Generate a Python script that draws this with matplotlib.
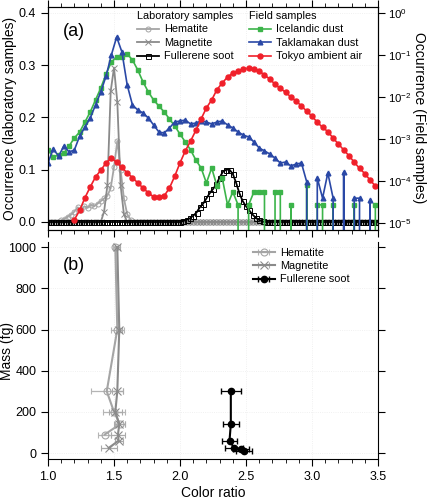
import numpy as np
import matplotlib
matplotlib.use("Agg")
import matplotlib.pyplot as plt
from matplotlib.ticker import MultipleLocator, LogLocator, NullLocator, FormatStrFormatter

plt.rcParams['font.family'] = ['Liberation Sans', 'DejaVu Sans']
plt.rcParams['mathtext.fontset'] = 'custom'
plt.rcParams['mathtext.rm'] = 'Liberation Sans'
plt.rcParams['axes.unicode_minus'] = False

# ---- panel (a): laboratory samples (linear axis), bins of 0.025
lab_x = np.linspace(1.0, 3.5, 101)
hematite = [0.0] * 4 + [0.003, 0.006, 0.010, 0.014, 0.020, 0.028, 0.022, 0.030, 0.027, 0.033,
                        0.030, 0.035, 0.040, 0.045, 0.050, 0.065, 0.105, 0.155, 0.100, 0.045,
                        0.015, 0.004] + [0.0] * 75
magnetite = [0.0] * 17 + [0.02, 0.07, 0.25, 0.295, 0.23, 0.07, 0.015] + [0.0] * 77
fullerene = [0.0] * 41 + [0.002, 0.004, 0.007, 0.012, 0.018, 0.028, 0.035, 0.045, 0.055, 0.063,
                          0.072, 0.085, 0.096, 0.100, 0.100, 0.092, 0.075, 0.055, 0.040, 0.030,
                          0.022, 0.014, 0.008, 0.004, 0.001] + [0.0] * 35

# ---- panel (a): field samples (log axis), bins of 0.04
field_x = np.round(1.0 + 0.04 * np.arange(63), 2)
icelandic = [5.5e-4, 3.7e-4, 4.2e-4, 4.6e-4, 6.8e-4, 1.06e-3, 1.47e-3, 2.54e-3, 4.4e-3, 8.5e-3,
             1.64e-2, 3.53e-2, 6.8e-2, 8.96e-2, 8.96e-2, 0.106, 7.6e-2, 4.4e-2, 2.28e-2, 1.32e-2,
             8.5e-3, 6.1e-3, 4.4e-3, 3.0e-3, 2.04e-3, 1.31e-3, 8.5e-4, 5.5e-4, 3.16e-4, 2.04e-4,
             9.0e-5, 2.04e-4, 7.6e-5, 1.18e-4, 2.7e-5, 5.5e-5, 2.7e-5, 0, 2.7e-5, 5.5e-5,
             5.5e-5, 5.5e-5, 0, 5.5e-5, 5.5e-5, 0, 2.7e-5, 0, 0, 8.0e-5,
             0, 2.7e-5, 2.7e-5, 0, 2.7e-5, 0, 0, 0, 2.7e-5, 0,
             0, 0, 2.7e-5]
taklamakan = [2.7e-4, 5.8e-4, 3.9e-4, 6.8e-4, 4.9e-4, 5.5e-4, 1.18e-3, 1.93e-3, 3.16e-3, 6.45e-3,
              1.32e-2, 3.16e-2, 0.100, 0.268, 0.118, 1.93e-2, 6.45e-3, 4.9e-3, 4.16e-3, 3.16e-3,
              2.16e-3, 1.47e-3, 1.39e-3, 1.83e-3, 2.54e-3, 2.68e-3, 2.83e-3, 2.28e-3, 2.40e-3, 2.68e-3,
              2.54e-3, 2.28e-3, 2.54e-3, 2.68e-3, 2.16e-3, 1.83e-3, 1.47e-3, 1.24e-3, 1.12e-3, 8.5e-4,
              6.1e-4, 5.2e-4, 4.4e-4, 3.5e-4, 2.68e-4, 2.83e-4, 2.28e-4, 2.54e-4, 2.68e-4, 9.5e-5,
              0, 1.18e-4, 3.9e-5, 1.55e-4, 3.9e-5, 0, 1.64e-4, 0, 3.9e-5, 3.9e-5,
              0, 3.5e-5, 0]
tokyo_x = field_x[5:]
tokyo = [1.2e-5, 2.0e-5, 4.0e-5, 7.2e-5, 1.25e-4, 1.8e-4, 2.7e-4, 3.5e-4, 2.8e-4, 2.1e-4,
         1.55e-4, 1.2e-4, 9.0e-5, 6.8e-5, 5.2e-5, 4.2e-5, 4.2e-5, 4.4e-5, 6.8e-5, 1.3e-4,
         2.7e-4, 5.2e-4, 8.9e-4, 1.6e-3, 3.0e-3, 5.5e-3, 8.5e-3, 1.5e-2, 2.15e-2, 3.0e-2,
         3.7e-2, 4.2e-2, 4.6e-2, 4.9e-2, 4.6e-2, 4.2e-2, 3.3e-2, 2.7e-2, 2.0e-2, 1.6e-2,
         1.3e-2, 1.0e-2, 8.0e-3, 6.1e-3, 4.6e-3, 3.5e-3, 2.5e-3, 1.9e-3, 1.5e-3, 1.05e-3,
         7.6e-4, 5.5e-4, 4.0e-4, 2.8e-4, 2.0e-4, 1.5e-4, 1.05e-4, 7.6e-5]

# ---- panel (b): mass vs colour ratio
hem_mass = [1000, 600, 300, 200, 140, 90]
hem_cr = [1.51, 1.525, 1.445, 1.50, 1.545, 1.43]
hem_err = [0.02, 0.05, 0.12, 0.08, 0.04, 0.05]
mag_mass = [1000, 600, 300, 200, 140, 90, 60, 25]
mag_cr = [1.525, 1.54, 1.525, 1.51, 1.54, 1.53, 1.535, 1.46]
mag_err = [0.02, 0.02, 0.04, 0.05, 0.04, 0.05, 0.03, 0.06]
ful_mass = [300, 140, 60, 25, 18, 12]
ful_cr = [2.385, 2.385, 2.375, 2.41, 2.46, 2.485]
ful_err = [0.075, 0.06, 0.06, 0.07, 0.06, 0.06]

c_hem = '#a5a5a5'
c_mag = '#8a8a8a'
c_green = '#3cb44a'
c_blue = '#2a48a6'
c_red = '#f0202a'

fig = plt.figure(figsize=(4.28, 5.0), dpi=100)
L, W = 48 / 428, 330 / 428
ax = fig.add_axes([L, 1 - 230 / 500, W, 223 / 500])
axb = fig.add_axes([L, 1 - 459 / 500, W, 217 / 500])

# lab samples
h1, = ax.plot(lab_x, hematite, color=c_hem, lw=1.3, marker='o', ms=3.6, mfc='none', mew=0.7,
              label='Hematite')
h2, = ax.plot(lab_x, magnetite, color=c_mag, lw=1.3, marker='x', ms=4, mew=0.7, label='Magnetite')
h3, = ax.plot(lab_x, fullerene, color='black', lw=1.3, marker='s', ms=3.6, mfc='none', mew=0.7,
              label='Fullerene soot')
ax.set_xlim(1.0, 3.5)
ax.set_ylim(-0.0153, 0.411)
ax.yaxis.set_major_locator(MultipleLocator(0.1))
ax.yaxis.set_major_formatter(FormatStrFormatter('%.1f'))
ax.xaxis.set_major_locator(MultipleLocator(0.5))
ax.xaxis.set_minor_locator(MultipleLocator(0.1))
ax.tick_params(axis='x', which='both', direction='out', top=True, bottom=True,
               labelbottom=False, labeltop=False)
ax.tick_params(which='major', length=5, labelsize=9)
ax.tick_params(which='minor', length=3)
ax.set_ylabel('Occurrence (laboratory samples)', fontsize=10)
ax.yaxis.set_label_coords(-0.093, 0.5)
ax.grid(True, which='major', color='#ececec', ls=':', lw=0.6)
ax.text(0.045, 0.93, '(a)', transform=ax.transAxes, fontsize=13, va='top', ha='left')

# field samples
ax2 = ax.twinx()
ax2.set_yscale('log', nonpositive='clip')
f1, = ax2.plot(field_x, icelandic, color=c_green, lw=1.2, marker='s', ms=3.2,
               label='Icelandic dust')
f2, = ax2.plot(field_x, taklamakan, color=c_blue, lw=1.2, marker='^', ms=3.4,
               label='Taklamakan dust')
f3, = ax2.plot(tokyo_x, tokyo, color=c_red, lw=1.2, marker='o', ms=3.6,
               label='Tokyo ambient air')
ax2.set_ylim(10 ** -5.167, 10 ** 0.143)
ax2.yaxis.set_major_locator(LogLocator(base=10, numticks=10))
ax2.yaxis.set_minor_locator(NullLocator())
ax2.tick_params(which='major', length=5, labelsize=8.2, pad=2.5)
fig.text(419 / 428, 1 - 118 / 500, 'Occurrence (Field samples)', fontsize=10,
         rotation=270, ha='center', va='center')

leg1 = ax2.legend(handles=[h1, h2, h3], title='Laboratory samples', loc='upper left',
                  bbox_to_anchor=(137 / 428, 1 - 11 / 500), bbox_transform=fig.transFigure,
                  frameon=False, alignment='left', borderpad=0, borderaxespad=0,
                  handlelength=2.0, handletextpad=0.5, labelspacing=0.32,
                  fontsize=7.8, title_fontsize=7.8)
ax2.add_artist(leg1)
ax2.legend(handles=[f1, f2, f3], title='Field samples', loc='upper left',
           bbox_to_anchor=(249 / 428, 1 - 11 / 500), bbox_transform=fig.transFigure,
           frameon=False, alignment='left', borderpad=0, borderaxespad=0,
           handlelength=2.0, handletextpad=0.5, labelspacing=0.32,
           fontsize=7.8, title_fontsize=7.8)

# panel (b)
axb.errorbar(hem_cr, hem_mass, xerr=hem_err, color=c_hem, lw=1.5, marker='o', ms=5,
             mfc='none', mew=0.8, ecolor='#b5b5b5', elinewidth=0.9, capsize=2.5,
             label='Hematite')
axb.errorbar(mag_cr, mag_mass, xerr=mag_err, color=c_mag, lw=1.5, marker='x', ms=6,
             mew=0.8, ecolor='#aaaaaa', elinewidth=0.9, capsize=2.5, label='Magnetite')
axb.errorbar(ful_cr, ful_mass, xerr=ful_err, color='black', lw=1.5, marker='o', ms=4.5,
             ecolor='black', elinewidth=0.9, capsize=2.5, label='Fullerene soot')
axb.set_xlim(1.0, 3.5)
axb.set_ylim(-29, 1025)
axb.spines['top'].set_visible(False)
axb.xaxis.set_major_locator(MultipleLocator(0.5))
axb.xaxis.set_minor_locator(MultipleLocator(0.1))
axb.xaxis.set_major_formatter(FormatStrFormatter('%.1f'))
axb.yaxis.set_major_locator(MultipleLocator(200))
axb.tick_params(which='both', direction='out', right=True, labelright=False)
axb.tick_params(which='major', length=5, labelsize=9)
axb.tick_params(which='minor', length=3)
axb.set_xlabel('Color ratio', fontsize=10, labelpad=2)
axb.set_ylabel('Mass (fg)', fontsize=10)
axb.yaxis.set_label_coords(-0.103, 0.5)
axb.grid(True, which='major', color='#ececec', ls=':', lw=0.6)
axb.text(0.045, 0.93, '(b)', transform=axb.transAxes, fontsize=13, va='top', ha='left')
axb.legend(loc='upper left', bbox_to_anchor=(253 / 428, 1 - 248 / 500),
           bbox_transform=fig.transFigure, frameon=False, borderpad=0, borderaxespad=0,
           handlelength=2.0, handletextpad=0.5, labelspacing=0.3, fontsize=7.8)

fig.savefig('out.png', dpi=100)
